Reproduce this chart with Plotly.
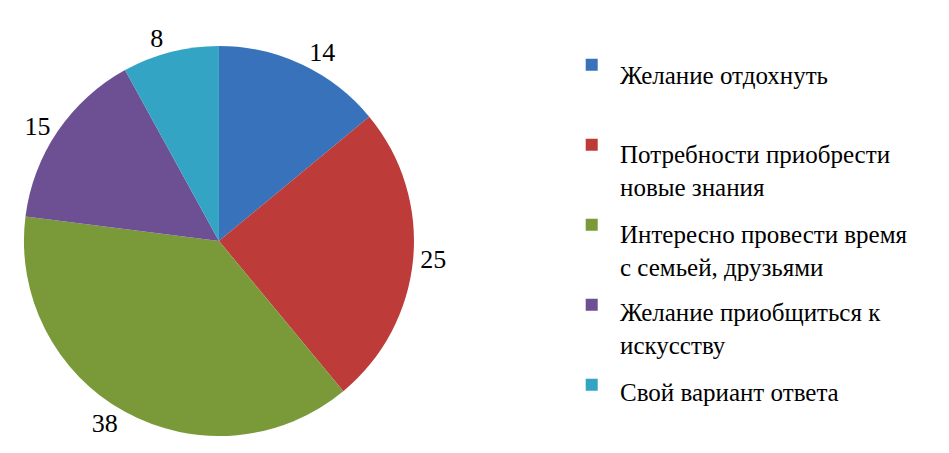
import plotly.graph_objects as go

labels = [
    "Желание отдохнуть",
    "Потребности приобрести новые знания",
    "Интересно провести время с семьей, друзьями",
    "Желание приобщиться к искусству",
    "Свой вариант ответа",
]
legend_lines = [
    ["Желание отдохнуть", " "],
    ["Потребности приобрести", "новые знания"],
    ["Интересно провести время", "с семьей, друзьями"],
    ["Желание приобщиться к", "искусству"],
    ["Свой вариант ответа"],
]
values = [14, 25, 38, 15, 8]
colors = ["#3872ba", "#bd3b38", "#7a9a3a", "#6d4f93", "#33a4c3"]

font_name = "Liberation Serif"

fig = go.Figure()
fig.add_trace(go.Pie(
    labels=labels,
    values=values,
    sort=False,
    direction="clockwise",
    rotation=0,
    marker=dict(colors=colors, line=dict(width=0)),
    textinfo="value",
    textposition="outside",
    outsidetextfont=dict(family=font_name, size=26, color="black"),
    domain=dict(x=[0.0168, 0.4278], y=[0.0552, 0.9162]),
    automargin=False,
    showlegend=False,
    hoverinfo="label+value",
))

# legend entries as separate traces so the spacing between them can be set;
# the legend text itself does not take the serif font, so it is kept
# invisible and the visible text is written as annotations beside the squares
for i, (lines, col) in enumerate(zip(legend_lines, colors)):
    fig.add_trace(go.Scatter(
        x=[None], y=[None],
        mode="markers",
        marker=dict(symbol="square", size=12, color=col),
        name="<br>".join(lines),
        legendgroup=f"g{i}",
        hoverinfo="skip",
    ))

legend_tops = [0.885, 0.711, 0.534, 0.362, 0.185]
for lines, ytop in zip(legend_lines, legend_tops):
    fig.add_annotation(
        x=0.643, y=ytop, xref="paper", yref="paper",
        xanchor="left", yanchor="top", align="left",
        text="<br>".join(t for t in lines if t.strip()),
        showarrow=False,
        font=dict(family=font_name, size=25, color="black"),
    )

fig.update_layout(
    width=949,
    height=453,
    margin=dict(l=0, r=0, t=0, b=0),
    paper_bgcolor="white",
    plot_bgcolor="white",
    font=dict(family=font_name, size=25, color="black"),
    xaxis=dict(visible=False),
    yaxis=dict(visible=False),
    legend=dict(
        x=0.594, y=0.925, xanchor="left", yanchor="top",
        font=dict(family=font_name, size=25, color="rgba(0,0,0,0)"),
        valign="top",
        tracegroupgap=12,
        traceorder="grouped",
        bgcolor="rgba(0,0,0,0)",
    ),
)

fig.write_html("out.html")
